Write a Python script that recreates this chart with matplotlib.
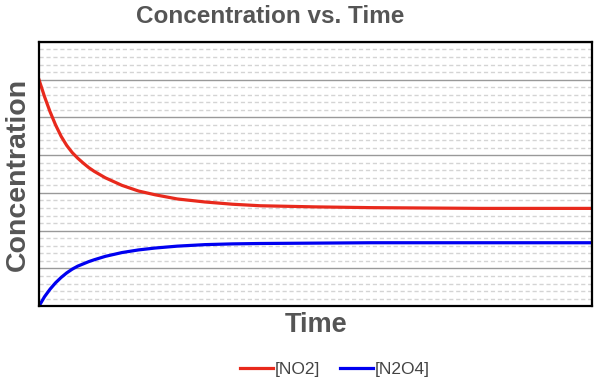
'''Concentration vs. Time for 2 NO2 <-> N2O4'''

import matplotlib.pyplot as plt
from matplotlib.ticker import MultipleLocator

# values (time in arbitrary units, conc in grid units)
time = [0, 1, 2, 3, 4, 5, 6, 7, 8, 9, 10, 12, 15, 18, 21, 25, 30, 35, 40,
        50, 60, 70, 80, 90, 100]
no2 = [6.0, 5.55, 5.15, 4.8, 4.5, 4.26, 4.07, 3.92, 3.79, 3.67, 3.57, 3.4, 3.2,
       3.05, 2.95, 2.84, 2.76, 2.70, 2.66, 2.63, 2.61, 2.60, 2.59, 2.59, 2.59]
n2o4 = [0.0, 0.25, 0.45, 0.62, 0.76, 0.88, 0.98, 1.06, 1.12, 1.18, 1.23, 1.32,
        1.42, 1.49, 1.54, 1.59, 1.63, 1.65, 1.66, 1.67, 1.68, 1.68, 1.68,
        1.68, 1.68]
labels = ['[NO2]', '[N2O4]']

grey = '#555555'
plt.rcParams['font.family'] = ['Liberation Sans', 'DejaVu Sans']

fig = plt.figure(figsize=(6, 3.92), dpi=100)
ax = fig.add_axes([0.065, 0.219, 0.922, 0.674])

ax.plot(time, no2, color='#E8291C', lw=2.3, label=labels[0])
ax.plot(time, n2o4, color='#0000F0', lw=2.3, label=labels[1])

ax.set_xlim(0, 100)
ax.set_ylim(0, 7)
ax.yaxis.set_major_locator(MultipleLocator(1))
ax.yaxis.set_minor_locator(MultipleLocator(0.2))
ax.grid(True, which='major', axis='y', color='#999999', lw=1.0)
ax.grid(True, which='minor', axis='y', color='#d4d4d4', lw=1.0,
        linestyle=(0, (3, 2)))
ax.set_axisbelow(True)
ax.tick_params(which='both', left=False, bottom=False,
               labelleft=False, labelbottom=False)
for s in ax.spines.values():
    s.set_color('black')
    s.set_linewidth(1.6)

# title sits a bit left of the axes centre in the reference
fig.text(0.45, 0.958, 'Concentration vs. Time', fontsize=17.5,
         fontweight='bold', color=grey, ha='center', va='center')
ax.set_ylabel('Concentration', fontsize=20.5, fontweight='bold',
              color=grey, labelpad=6)
ax.set_xlabel('Time', fontsize=19.5, fontweight='bold', color=grey, labelpad=4)

leg = fig.legend(loc='center', bbox_to_anchor=(0.558, 0.057), ncol=2,
                 frameon=False, fontsize=12.5, handlelength=1.9,
                 handletextpad=0.1, columnspacing=1.1)
for t in leg.get_texts():
    t.set_color('#444444')

fig.savefig('out.png', dpi=100)
